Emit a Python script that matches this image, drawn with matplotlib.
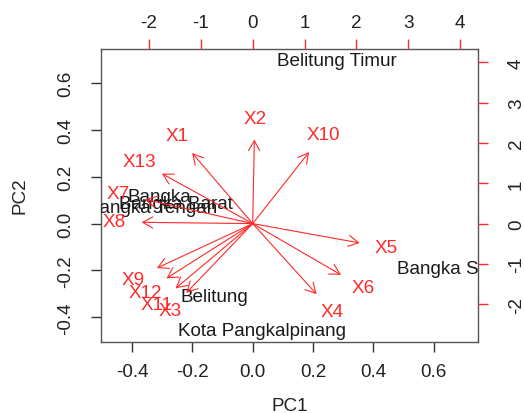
import matplotlib
matplotlib.use("Agg")
import matplotlib.pyplot as plt
from matplotlib.patches import FancyArrowPatch
import numpy as np

plt.rcParams['font.family'] = ['Liberation Sans', 'DejaVu Sans']

# Observation scores (PC1, PC2)
obs_names = ["Bangka", "Bangka Barat", "Bangka Tengah", "Bangka Selatan",
             "Belitung", "Belitung Timur", "Kota Pangkalpinang"]
obs_pc1 = [-0.311, -0.255, -0.335, 0.700, -0.127, 0.278, 0.031]
obs_pc2 = [0.115, 0.085, 0.068, -0.192, -0.312, 0.697, -0.457]

# Variable loadings (secondary axes units)
var_names = ["X1", "X2", "X3", "X4", "X5", "X6", "X7", "X8", "X9", "X10", "X11", "X12", "X13"]
var_pc1 = [-1.46, 0.04, -1.60, 1.54, 2.58, 2.13, -2.60, -2.68, -2.31, 1.36, -1.86, -2.08, -2.19]
var_pc2 = [2.19, 2.61, -2.15, -2.19, -0.60, -1.59, 0.75, 0.04, -1.38, 2.22, -2.01, -1.70, 1.55]

x_ticks = [-0.4, -0.2, 0.0, 0.2, 0.4, 0.6]
y_ticks = [-0.4, -0.2, 0.0, 0.2, 0.4, 0.6]
sec_ticks = [-2, -1, 0, 1, 2, 3, 4]

lim = (-0.503, 0.747)
ratio = 5.82
FS = 13.6
RED = '#FF2A2A'

fig = plt.figure(figsize=(5.24, 4.14), dpi=100)
rect = [101/524, 1 - 342.5/414, (478 - 101)/524, (342.5 - 49.5)/414]
ax = fig.add_axes(rect)
ax.set_xlim(lim)
ax.set_ylim(lim)
ax.set_xticks(x_ticks)
ax.set_xticklabels([f"{v:.1f}" for v in x_ticks])
ax.set_yticks(y_ticks)
ax.set_yticklabels([f"{v:.1f}" for v in y_ticks])
ax.tick_params(axis='x', length=7, width=1, color='#333333', pad=8.5, labelsize=FS, labelcolor='#222222')
ax.tick_params(axis='y', length=7, width=1, color='#333333', pad=12.5, labelsize=FS, labelcolor='#222222')
plt.setp(ax.get_yticklabels(), rotation=90, va='center')
for s in ax.spines.values():
    s.set_color('#555555')
    s.set_linewidth(1.0)

for name, x, y in zip(obs_names, obs_pc1, obs_pc2):
    ax.text(x, y, name, ha='center', va='center', fontsize=FS, color='#1a1a1a', clip_on=True)

ax2 = fig.add_axes(rect, frameon=False)
ax2.patch.set_visible(False)
ax2.set_xlim(lim[0] * ratio, lim[1] * ratio)
ax2.set_ylim(lim[0] * ratio, lim[1] * ratio)
ax2.xaxis.tick_top()
ax2.yaxis.tick_right()
ax2.set_xticks(sec_ticks)
ax2.set_yticks(sec_ticks)
ax2.set_xticklabels([str(v) for v in sec_ticks])
ax2.set_yticklabels([str(v) for v in sec_ticks])
ax2.tick_params(axis='x', length=7, width=1, color=RED, pad=5.5, labelsize=FS, labelcolor='#222222')
ax2.tick_params(axis='y', length=7, width=1, color=RED, pad=14.5, labelsize=FS, labelcolor='#222222')
plt.setp(ax2.get_yticklabels(), rotation=90, va='center')

for name, x, y in zip(var_names, var_pc1, var_pc2):
    arr = FancyArrowPatch((0, 0), (0.8 * x, 0.8 * y),
                          arrowstyle='->,head_length=7.2,head_width=4.0',
                          mutation_scale=1, color=RED, lw=0.8,
                          shrinkA=0, shrinkB=0)
    ax2.add_patch(arr)
    ax2.text(x, y, name, ha='center', va='center', fontsize=FS, color=RED, clip_on=True)

fig.text(289.5/524, 1 - 407/414, "PC1", ha='center', va='center', fontsize=FS, color='#222222')
fig.text(19.5/524, 1 - 196/414, "PC2", ha='center', va='center', fontsize=FS, color='#222222', rotation=90)

fig.savefig("out.png", dpi=100)
